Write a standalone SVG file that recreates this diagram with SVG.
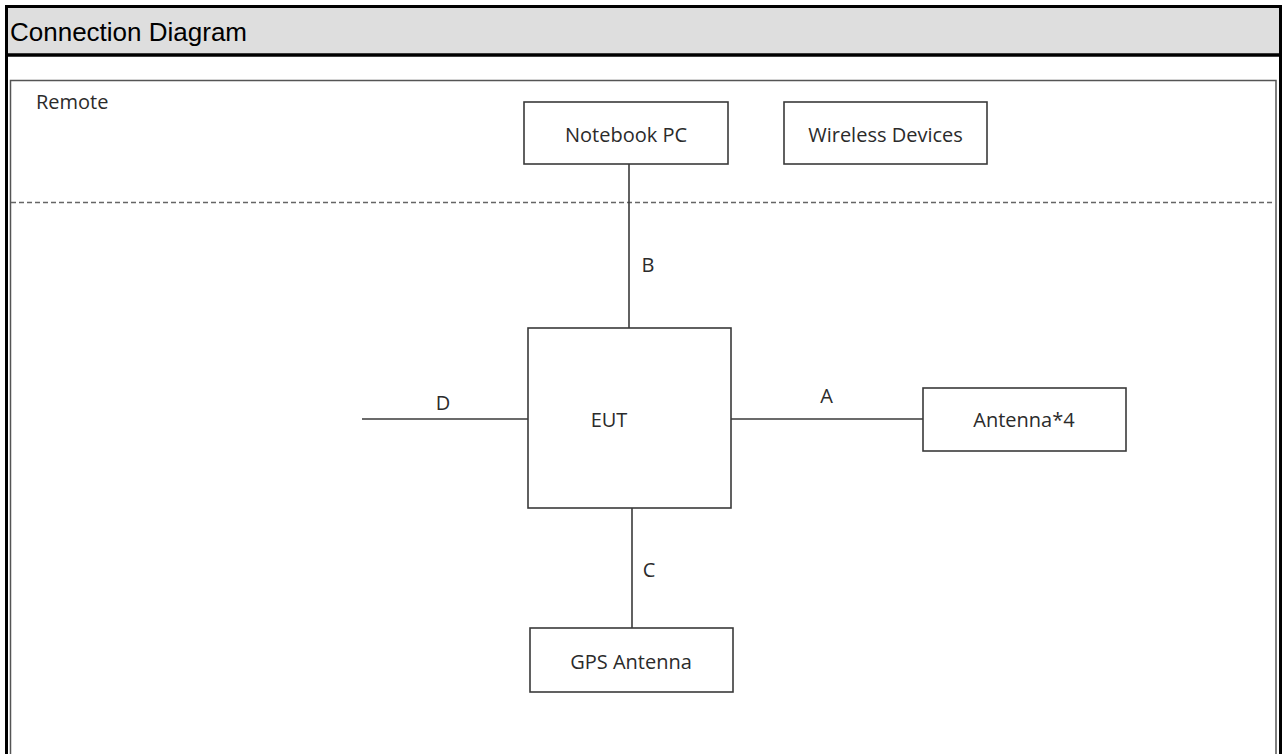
<svg xmlns="http://www.w3.org/2000/svg" width="1286" height="754" viewBox="0 0 1286 754">
<style>
.box{fill:#fff;stroke:#3a3a3a;stroke-width:1.6}
.lbl{font-family:"Open Sans","Noto Sans",sans-serif;font-size:20px;fill:#2b2b2b;text-anchor:middle}
.conn{stroke:#3a3a3a;stroke-width:1.6;fill:none}
</style>
<rect x="0" y="0" width="1286" height="754" fill="#fff"/>
<g id="frame">
<rect x="6.5" y="6.5" width="1274" height="48" fill="#dedede"/>
<line x1="6.5" y1="5" x2="6.5" y2="754" stroke="#000" stroke-width="3"/>
<line x1="1280.5" y1="5" x2="1280.5" y2="754" stroke="#000" stroke-width="3"/>
<line x1="5" y1="6.5" x2="1282" y2="6.5" stroke="#000" stroke-width="3"/>
<line x1="5" y1="55" x2="1282" y2="55" stroke="#000" stroke-width="3.5"/>
<text x="10" y="41" font-family="'Liberation Sans',Arial,sans-serif" font-size="26" fill="#000">Connection Diagram</text>
<path d="M10.5 754 V80.5 H1276 V754" fill="none" stroke="#555" stroke-width="1.5"/>
</g>
<g id="remote">
<text x="36" y="109" font-family="'Open Sans','Noto Sans',sans-serif" font-size="20" fill="#2b2b2b">Remote</text>
<line x1="11" y1="202.5" x2="1275" y2="202.5" stroke="#666" stroke-width="1.3" stroke-dasharray="5,3"/>
</g>
<g id="connectors">
<line class="conn" x1="629" y1="164" x2="629" y2="328"/>
<line class="conn" x1="632" y1="508" x2="632" y2="628"/>
<line class="conn" x1="731" y1="419" x2="923" y2="419"/>
<line class="conn" x1="362" y1="419" x2="528" y2="419"/>
<text class="lbl" x="648" y="272">B</text>
<text class="lbl" x="649" y="577">C</text>
<text class="lbl" x="826.5" y="403">A</text>
<text class="lbl" x="443" y="410">D</text>
</g>
<g id="notebook">
<rect class="box" x="524" y="102" width="204" height="62"/>
<text class="lbl" x="626" y="142">Notebook PC</text>
</g>
<g id="wireless">
<rect class="box" x="784" y="102" width="203" height="62"/>
<text class="lbl" x="885.5" y="142">Wireless Devices</text>
</g>
<g id="eut">
<rect class="box" x="528" y="328" width="203" height="180"/>
<text class="lbl" x="609" y="427">EUT</text>
</g>
<g id="antenna">
<rect class="box" x="923" y="388" width="203" height="63"/>
<text class="lbl" x="1024" y="427">Antenna*4</text>
</g>
<g id="gps">
<rect class="box" x="530" y="628" width="203" height="64"/>
<text class="lbl" x="631" y="669">GPS Antenna</text>
</g>
</svg>
